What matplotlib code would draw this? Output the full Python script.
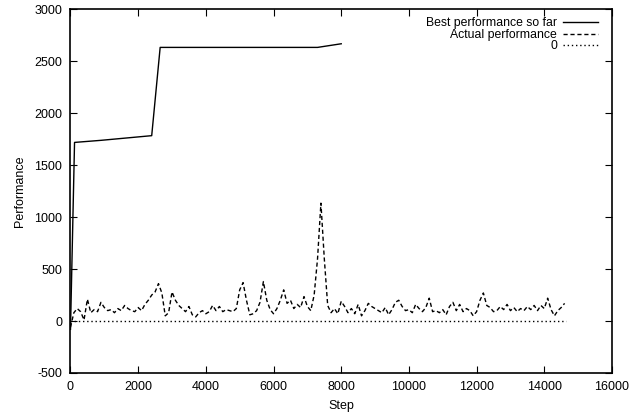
import matplotlib
matplotlib.use("Agg")
import matplotlib.pyplot as plt

plt.rcParams['font.family'] = ['Liberation Sans', 'DejaVu Sans']
plt.rcParams['axes.unicode_minus'] = False

best_steps = [0, 120, 900, 2400, 2650, 7300, 8000]
best_perf = [-80, 1720, 1740, 1785, 2635, 2635, 2670]

actual_perf = [
    -60, 80, 120, 90, 10, 210, 80, 110, 90, 180,
    130, 100, 110, 80, 120, 100, 150, 120, 100, 90,
    130, 100, 160, 200, 250, 280, 360, 270, 50, 80,
    280, 200, 150, 120, 90, 140, 60, 40, 80, 100,
    70, 90, 150, 100, 140, 90, 110, 100, 90, 120,
    300, 370, 200, 60, 70, 100, 180, 380, 200, 110,
    70, 120, 200, 300, 170, 200, 120, 160, 130, 235,
    140, 100, 250, 600, 1135, 600, 150, 80, 120, 70,
    190, 140, 80, 120, 70, 160, 50, 100, 170, 140,
    120, 100, 80, 130, 60, 110, 180, 200, 140, 100,
    110, 80, 160, 120, 90, 130, 220, 90, 100, 80,
    110, 60, 140, 180, 100, 160, 90, 120, 100, 50,
    90, 200, 270, 150, 130, 90, 100, 140, 110, 160,
    100, 130, 90, 120, 100, 140, 110, 150, 100, 150,
    120, 220, 110, 50, 100, 130, 170,
]
actual_steps = [i * 100 for i in range(len(actual_perf))]
zero_steps = [0, 14640]
zero_perf = [0, 0]

fig = plt.figure(figsize=(6.39, 4.13), dpi=100)
ax = fig.add_axes([0.1103, 0.097, 0.8474, 0.880])

ax.plot(best_steps, best_perf, color='black', lw=1.0, label='Best performance so far')
ax.plot(actual_steps, actual_perf, color='black', lw=1.0, ls=(0, (3, 2)), label='Actual performance')
ax.plot(zero_steps, zero_perf, color='black', lw=1.0, ls=(0, (1, 2)), label='0')

ax.set_xlim(0, 16000)
ax.set_ylim(-500, 3000)
ax.set_xticks(range(0, 16001, 2000))
ax.set_yticks(range(-500, 3001, 500))
ax.tick_params(direction='in', top=True, right=True, length=5, width=0.8, labelsize=9, pad=6)
for s in ax.spines.values():
    s.set_linewidth(1.2)
ax.set_xlabel('Step', fontsize=9, labelpad=5)
ax.set_ylabel('Performance', fontsize=9, labelpad=6)

leg = ax.legend(loc='upper right', bbox_to_anchor=(0.9786, 0.985), frameon=False, markerfirst=False,
                fontsize=8.8, handlelength=2.85, labelspacing=-0.05, borderaxespad=0.0, borderpad=0.2,
                handletextpad=0.5)
for t in leg.get_texts():
    t.set_ha('right')
leg._legend_box.align = 'right'

fig.savefig('out.png', dpi=100)
